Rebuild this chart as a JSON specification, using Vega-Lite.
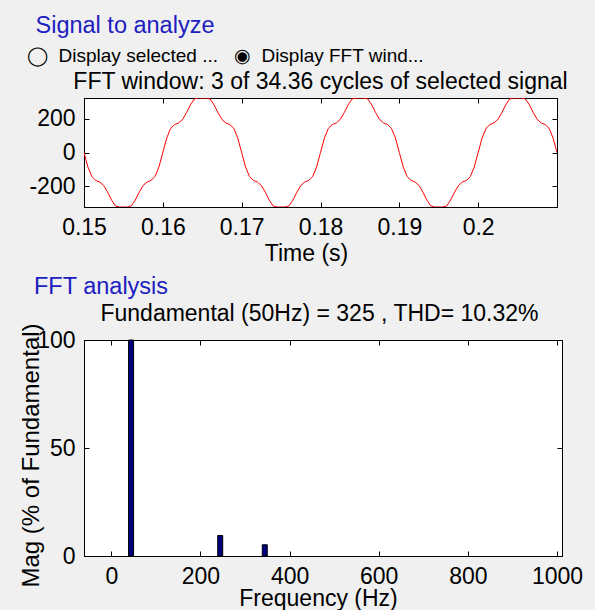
{
  "$schema": "https://vega.github.io/schema/vega-lite/v6.json",
  "autosize": {"type": "none"},
  "padding": {"left": 84, "top": 98, "right": 511, "bottom": 512},
  "background": "#f0f0f0",
  "datasets": {
    "signal": [
      {"t": 0.15, "v": 0}, {"t": 0.1505, "v": -87}, {"t": 0.151, "v": -144}, {"t": 0.1515, "v": -167},
      {"t": 0.152, "v": -176}, {"t": 0.1525, "v": -197}, {"t": 0.153, "v": -237}, {"t": 0.1535, "v": -284},
      {"t": 0.154, "v": -319}, {"t": 0.1545, "v": -325}, {"t": 0.155, "v": -325}, {"t": 0.1555, "v": -325},
      {"t": 0.156, "v": -319}, {"t": 0.1565, "v": -284}, {"t": 0.157, "v": -237}, {"t": 0.1575, "v": -197},
      {"t": 0.158, "v": -176}, {"t": 0.1585, "v": -167}, {"t": 0.159, "v": -144}, {"t": 0.1595, "v": -87},
      {"t": 0.16, "v": 0}, {"t": 0.1605, "v": 87}, {"t": 0.161, "v": 144}, {"t": 0.1615, "v": 167},
      {"t": 0.162, "v": 176}, {"t": 0.1625, "v": 197}, {"t": 0.163, "v": 237}, {"t": 0.1635, "v": 284},
      {"t": 0.164, "v": 319}, {"t": 0.1645, "v": 325}, {"t": 0.165, "v": 325}, {"t": 0.1655, "v": 325},
      {"t": 0.166, "v": 319}, {"t": 0.1665, "v": 284}, {"t": 0.167, "v": 237}, {"t": 0.1675, "v": 197},
      {"t": 0.168, "v": 176}, {"t": 0.1685, "v": 167}, {"t": 0.169, "v": 144}, {"t": 0.1695, "v": 87},
      {"t": 0.17, "v": 0}, {"t": 0.1705, "v": -87}, {"t": 0.171, "v": -144}, {"t": 0.1715, "v": -167},
      {"t": 0.172, "v": -176}, {"t": 0.1725, "v": -197}, {"t": 0.173, "v": -237}, {"t": 0.1735, "v": -284},
      {"t": 0.174, "v": -319}, {"t": 0.1745, "v": -325}, {"t": 0.175, "v": -325}, {"t": 0.1755, "v": -325},
      {"t": 0.176, "v": -319}, {"t": 0.1765, "v": -284}, {"t": 0.177, "v": -237}, {"t": 0.1775, "v": -197},
      {"t": 0.178, "v": -176}, {"t": 0.1785, "v": -167}, {"t": 0.179, "v": -144}, {"t": 0.1795, "v": -87},
      {"t": 0.18, "v": 0}, {"t": 0.1805, "v": 87}, {"t": 0.181, "v": 144}, {"t": 0.1815, "v": 167},
      {"t": 0.182, "v": 176}, {"t": 0.1825, "v": 197}, {"t": 0.183, "v": 237}, {"t": 0.1835, "v": 284},
      {"t": 0.184, "v": 319}, {"t": 0.1845, "v": 325}, {"t": 0.185, "v": 325}, {"t": 0.1855, "v": 325},
      {"t": 0.186, "v": 319}, {"t": 0.1865, "v": 284}, {"t": 0.187, "v": 237}, {"t": 0.1875, "v": 197},
      {"t": 0.188, "v": 176}, {"t": 0.1885, "v": 167}, {"t": 0.189, "v": 144}, {"t": 0.1895, "v": 87},
      {"t": 0.19, "v": 0}, {"t": 0.1905, "v": -87}, {"t": 0.191, "v": -144}, {"t": 0.1915, "v": -167},
      {"t": 0.192, "v": -176}, {"t": 0.1925, "v": -197}, {"t": 0.193, "v": -237}, {"t": 0.1935, "v": -284},
      {"t": 0.194, "v": -319}, {"t": 0.1945, "v": -325}, {"t": 0.195, "v": -325}, {"t": 0.1955, "v": -325},
      {"t": 0.196, "v": -319}, {"t": 0.1965, "v": -284}, {"t": 0.197, "v": -237}, {"t": 0.1975, "v": -197},
      {"t": 0.198, "v": -176}, {"t": 0.1985, "v": -167}, {"t": 0.199, "v": -144}, {"t": 0.1995, "v": -87},
      {"t": 0.2, "v": 0}, {"t": 0.2005, "v": 87}, {"t": 0.201, "v": 144}, {"t": 0.2015, "v": 167},
      {"t": 0.202, "v": 176}, {"t": 0.2025, "v": 197}, {"t": 0.203, "v": 237}, {"t": 0.2035, "v": 284},
      {"t": 0.204, "v": 319}, {"t": 0.2045, "v": 325}, {"t": 0.205, "v": 325}, {"t": 0.2055, "v": 325},
      {"t": 0.206, "v": 319}, {"t": 0.2065, "v": 284}, {"t": 0.207, "v": 237}, {"t": 0.2075, "v": 197},
      {"t": 0.208, "v": 176}, {"t": 0.2085, "v": 167}, {"t": 0.209, "v": 144}, {"t": 0.2095, "v": 87},
      {"t": 0.21, "v": 0}
    ],
    "spectrum": [
      {"freq": 50, "mag": 100},
      {"freq": 250, "mag": 9.5},
      {"freq": 350, "mag": 5.2}
    ]
  },
  "vconcat": [
    {
      "width": 473,
      "height": 109,
      "title": {
        "text": "\u25ef\u00a0 Display selected ...\u00a0\u00a0 \u25c9\u00a0 Display FFT wind...",
        "fontSize": 19,
        "color": "#000000",
        "dx": -57,
        "dy": 57,
        "offset": 4
      },
      "data": {"name": "signal"},
      "layer": [
        {
          "mark": {"type": "line", "color": "#ff0000", "strokeWidth": 1, "clip": true},
          "encoding": {
            "x": {
              "field": "t", "type": "quantitative",
              "scale": {"domain": [0.15, 0.21], "nice": false, "zero": false},
              "axis": {"values": [0.15, 0.16, 0.17, 0.18, 0.19, 0.2], "format": "~g",
                       "title": "Time (s)", "titleX": 222, "titleY": 53, "titleBaseline": "alphabetic"}
            },
            "y": {
              "field": "v", "type": "quantitative",
              "scale": {"domain": [-325, 325], "nice": false, "zero": false},
              "axis": {"values": [-200, 0, 200], "format": "d",
                       "labelExpr": "replace(datum.label, '\u2212', '-')",
                       "title": "Signal to analyze", "titleColor": "#2020c0", "titleFontSize": 23.5,
                       "titleAngle": 0, "titleAlign": "left", "titleBaseline": "alphabetic",
                       "titleX": -49, "titleY": -66}
            }
          }
        },
        {
          "mark": {"type": "line", "opacity": 0},
          "encoding": {
            "x": {
              "field": "t", "type": "quantitative",
              "axis": {"orient": "top", "values": [0.15, 0.16, 0.17, 0.18, 0.19, 0.2], "labels": false,
                       "title": "FFT window: 3 of 34.36 cycles of selected signal",
                       "titleX": 236, "titleY": -10, "titleBaseline": "alphabetic"}
            },
            "y": {
              "field": "v", "type": "quantitative",
              "axis": {"orient": "right", "values": [-200, 0, 200], "labels": false, "title": null}
            }
          }
        }
      ],
      "resolve": {"axis": {"x": "independent", "y": "independent"}}
    },
    {
      "width": 478,
      "height": 216,
      "title": {
        "text": "FFT analysis",
        "dx": -50,
        "offset": 4
      },
      "data": {"name": "spectrum"},
      "layer": [
        {
          "mark": {"type": "bar", "color": "#00007f", "stroke": "#000000", "strokeWidth": 1, "size": 5, "xOffset": -2.5},
          "encoding": {
            "x": {
              "field": "freq", "type": "quantitative",
              "scale": {"domain": [-50, 1000], "nice": false, "zero": false},
              "axis": {"values": [0, 200, 400, 600, 800, 1000], "format": "d", "title": "Frequency (Hz)",
                       "titleX": 234, "titleY": 49, "titleBaseline": "alphabetic"}
            },
            "y": {
              "field": "mag", "type": "quantitative",
              "scale": {"domain": [0, 100], "nice": false},
              "axis": {"values": [0, 50, 100], "format": "d", "title": "Mag (% of Fundamental)",
                       "titleX": -53, "titleY": 115, "titleBaseline": "middle", "titleFontSize": 24}
            }
          }
        },
        {
          "mark": {"type": "point", "opacity": 0},
          "encoding": {
            "x": {
              "field": "freq", "type": "quantitative",
              "axis": {"orient": "top", "values": [0, 200, 400, 600, 800, 1000], "labels": false,
                       "title": "Fundamental (50Hz) = 325 , THD= 10.32%",
                       "titleX": 235, "titleY": -20, "titleBaseline": "alphabetic"}
            },
            "y": {
              "field": "mag", "type": "quantitative",
              "axis": {"orient": "right", "values": [0, 50, 100], "labels": false, "title": null}
            }
          }
        }
      ],
      "resolve": {"axis": {"x": "independent", "y": "independent"}}
    }
  ],
  "spacing": 133,
  "bounds": "flush",
  "config": {
    "font": "Liberation Sans",
    "view": {"stroke": "#000000", "strokeWidth": 1, "fill": "#ffffff"},
    "axis": {
      "grid": false,
      "domainColor": "#000000",
      "tickColor": "#000000",
      "labelColor": "#000000",
      "titleColor": "#000000",
      "labelFont": "Liberation Sans",
      "titleFont": "Liberation Sans",
      "labelFontSize": 23,
      "titleFontSize": 23,
      "titleFontWeight": "normal",
      "tickSize": -5,
      "labelPadding": 14,
      "labelFlush": false,
      "labelOverlap": false
    },
    "title": {
      "font": "Liberation Sans",
      "fontSize": 23.5,
      "fontWeight": "normal",
      "color": "#2020c0",
      "anchor": "start",
      "frame": "group"
    }
  }
}
